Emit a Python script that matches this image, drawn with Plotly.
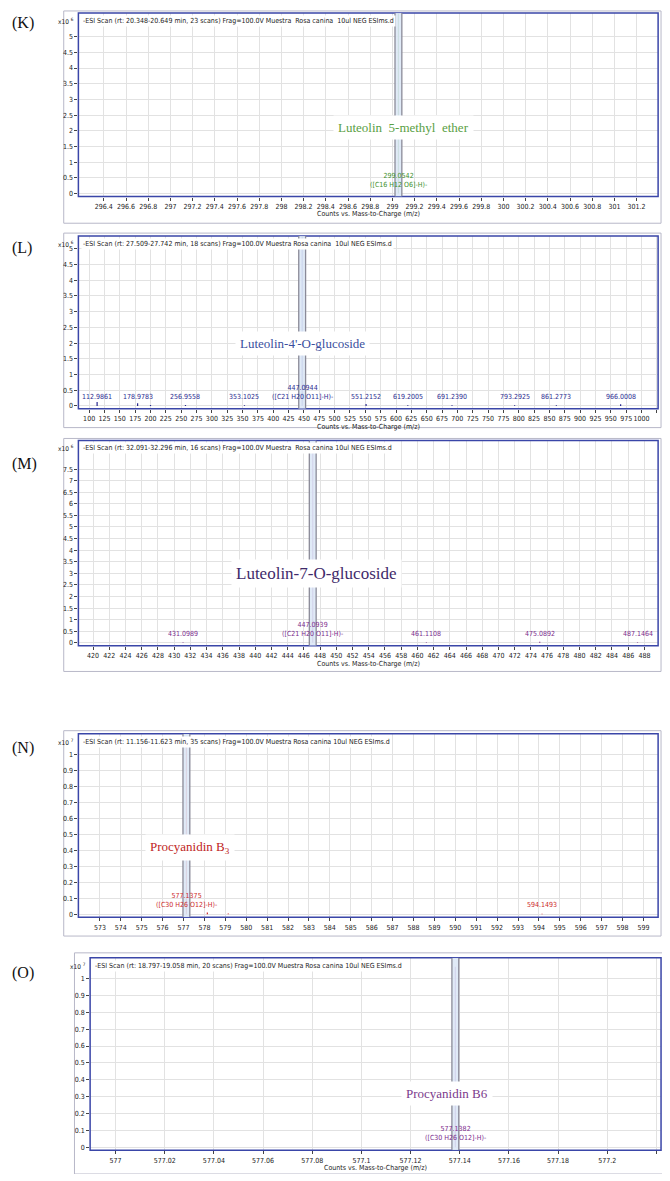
import plotly.graph_objects as go

W, H = 670, 1181
# the page is drawn slightly smaller than the window so no scrollbars appear
SX, SY = 655 / 670, 1166 / 1181

# ---- data (m/z, intensity in axis units) ----
k_mz = [299.0542]
k_int = [5.75]
k_labels = ["299.0542<br>([C16 H12 O6]-H)-"]

l_mz = [112.9861, 178.9783, 200.0, 256.9558, 353.1025, 447.0944, 551.2152, 619.2005, 691.2390, 793.2925, 861.2773, 966.0008]
l_int = [0.12, 0.08, 0.03, 0.03, 0.02, 5.6, 0.06, 0.02, 0.02, 0.02, 0.02, 0.05]
l_labels = ["112.9861", "178.9783", "", "256.9558", "353.1025", "447.0944<br>([C21 H20 O11]-H)-",
            "551.2152", "619.2005", "691.2390", "793.2925", "861.2773", "966.0008"]

m_mz = [431.0989, 447.0939, 461.1108, 475.0892, 487.1464]
m_int = [0.02, 8.3, 0.02, 0.05, 0.02]
m_labels = ["431.0989", "447.0939<br>([C21 H20 O11]-H)-", "461.1108", "475.0892", "487.1464"]

n_mz = [577.1375, 578.14, 579.14, 594.1493]
n_int = [1.07, 0.012, 0.006, 0.003]
n_labels = ["577.1375<br>([C30 H26 O12]-H)-", "", "", "594.1493"]

o_mz = [577.1382]
o_int = [1.07]
o_labels = ["577.1382<br>([C30 H26 O12]-H)-"]

titles = [
    "-ESI Scan (rt: 20.348-20.649 min, 23 scans) Frag=100.0V Muestra  Rosa canina  10ul NEG ESIms.d",
    "-ESI Scan (rt: 27.509-27.742 min, 18 scans) Frag=100.0V Muestra Rosa canina  10ul NEG ESIms.d",
    "-ESI Scan (rt: 32.091-32.296 min, 16 scans) Frag=100.0V Muestra  Rosa canina 10ul NEG ESIms.d",
    "-ESI Scan (rt: 11.156-11.623 min, 35 scans) Frag=100.0V Muestra Rosa canina 10ul NEG ESIms.d",
    "-ESI Scan (rt: 18.797-19.058 min, 20 scans) Frag=100.0V Muestra Rosa canina 10ul NEG ESIms.d",
]
compounds = ["Luteolin  5-methyl  ether", "Luteolin-4'-O-glucoside", "Luteolin-7-O-glucoside",
             "Procyanidin B<sub>3</sub>", "Procyanidin B6"]
compound_pos = [(299.1, 2.1), (447, 2.0), (447.5, 3.0), (577.3, 0.42), (577.135, 0.32)]
panel_tags = ["(K)", "(L)", "(M)", "(N)", "(O)"]
exponents = ["6", "6", "6", "7", "7"]
y_top_ticks = [5, 5, 7.5, 1, 1]

# ---- layout in reference pixels ----
panels = [
    dict(mz=k_mz, it=k_int, lab=k_labels, color="#3d8f2a", ccolor="#5aa044", csize=13,
         left=72, right=665, top=5, bottom=191, xt=((98, 296.4), (643, 301.2)), yt=((188, 0), (29, 5)),
         dx=0.2, x0=296.4, dy=0.5, frame=(57, 668, 3, 218), tagy=15, xlab=True),
    dict(mz=l_mz, it=l_int, lab=l_labels, color="#2a2a90", ccolor="#3a4f9e", csize=13,
         left=72, right=665, top=231, bottom=406, xt=((83, 100), (648, 1000)), yt=((403, 0), (244, 5)),
         dx=25, x0=100, dy=0.5, frame=(57, 668, 228, 425), tagy=243, xlab=True),
    dict(mz=m_mz, it=m_int, lab=m_labels, color="#7b2a8c", ccolor="#3f2a6a", csize=17,
         left=72, right=665, top=438, bottom=646, xt=((87, 420), (651, 488)), yt=((643, 0), (467, 7.5)),
         dx=2, x0=420, dy=0.5, frame=(57, 668, 436, 672), tagy=462, xlab=True),
    dict(mz=n_mz, it=n_int, lab=n_labels, color="#cc2a2a", ccolor="#c02424", csize=13,
         left=72, right=665, top=735, bottom=921, xt=((94, 573), (650, 599)), yt=((918, 0), (756, 1)),
         dx=1, x0=573, dy=0.1, frame=(57, 668, 732, 940), tagy=750, xlab=False),
    dict(mz=o_mz, it=o_int, lab=o_labels, color="#7b2a8c", ccolor="#7b3a8c", csize=13,
         left=84, right=668, top=962, bottom=1157, xt=((110, 577), (613, 577.2)), yt=((1154, 0), (983, 1)),
         dx=0.02, x0=577, dy=0.1, frame=(68, 670, 957, 1181), tagy=977, xlab=True),
]


def lin(p, t):
    (pa, va), (pb, vb) = t
    return va + (p - pa) * (vb - va) / (pb - pa)


def px(x):
    return x / W


def py(y):
    return 1 - y / H


fig = go.Figure()
shapes, annotations = [], []
TICKFONT = dict(family="DejaVu Sans Condensed, Liberation Sans Narrow, Liberation Sans", size=7, color="#222")

for i, p in enumerate(panels):
    n = "" if i == 0 else str(i + 1)
    xr = [lin(p["left"], p["xt"]), lin(p["right"], p["xt"])]
    yr = [lin(p["bottom"], p["yt"]), lin(p["top"], p["yt"])]
    xdom = [px(p["left"]), px(p["right"])]
    ydom = [py(p["bottom"]), py(p["top"])]
    nt = int(round(y_top_ticks[i] / p["dy"]))
    yvals = [round(k * p["dy"], 3) for k in range(nt + 1)]
    xvals = []
    v = p["x0"]
    while v < xr[1]:
        xvals.append(round(v, 4))
        v += p["dx"]
    fig.layout["xaxis" + n] = dict(domain=xdom, range=xr, anchor="y" + n, tickvals=xvals,
                                   ticktext=[f"{v:g}" for v in xvals],
                                   showgrid=True, gridcolor="#e2e2e2", zeroline=False, ticks="outside",
                                   ticklen=3, tickcolor="#444", tickfont=TICKFONT, showline=False,
                                   tickangle=0)
    fig.layout["yaxis" + n] = dict(domain=ydom, range=yr, anchor="x" + n, tickvals=yvals,
                                   ticktext=[f"{v:g}" for v in yvals],
                                   showgrid=True, gridcolor="#e2e2e2", zeroline=False, ticks="outside",
                                   ticklen=3, tickcolor="#444", tickfont=TICKFONT, showline=False)
    xref, yref = "x" + n, "y" + n

    # outer window frame and plot frame
    fl, fr, ft, fb = p["frame"]
    shapes.append(dict(type="rect", xref="paper", yref="paper", x0=px(fl), x1=px(fr),
                       y0=py(fb), y1=py(ft), line=dict(color="#b8b8c8", width=1), layer="below"))
    shapes.append(dict(type="rect", xref="paper", yref="paper", x0=xdom[0], x1=xdom[1],
                       y0=ydom[0], y1=ydom[1], line=dict(color="#3a46a8", width=1.5)))

    # stick spectrum
    xs, ys = [], []
    for mz, it in zip(p["mz"], p["it"]):
        xs += [mz, mz, None]
        ys += [0, it, None]
    fig.add_trace(go.Scatter(x=xs, y=ys, mode="lines", line=dict(color=p["color"], width=1.2),
                             xaxis=xref, yaxis=yref, showlegend=False, hoverinfo="skip"))

    # highlighted main peak band (drawn over the peak)
    main = max(range(len(p["it"])), key=lambda j: p["it"][j])
    ppu = (p["xt"][1][0] - p["xt"][0][0]) / (p["xt"][1][1] - p["xt"][0][1])
    hw = 3.5 / ppu
    cx = p["mz"][main]
    shapes.append(dict(type="rect", xref=xref, yref=yref, x0=cx - hw, x1=cx + hw, y0=yr[0], y1=yr[1],
                       fillcolor="rgba(221,232,246,0.9)", line=dict(width=0), layer="above"))
    for ex in (cx - hw, cx + hw):
        shapes.append(dict(type="line", xref=xref, yref=yref, x0=ex, x1=ex, y0=yr[0], y1=yr[1],
                           line=dict(color="#8a8a98", width=1.3)))

    for mz, lab in zip(p["mz"], p["lab"]):
        if lab:
            annotations.append(dict(x=mz, y=yr[0], xref=xref, yref=yref, text=lab, showarrow=False,
                                    yanchor="bottom", yshift=6, font=dict(TICKFONT, color=p["color"])))

    cxp, cyp = compound_pos[i]
    annotations.append(dict(x=cxp, y=cyp, xref=xref, yref=yref, text=compounds[i], showarrow=False,
                            bgcolor="white", borderpad=4,
                            font=dict(family="Liberation Serif, Times New Roman", size=p["csize"], color=p["ccolor"])))
    annotations.append(dict(x=xdom[0] + 3 / W, y=ydom[1] - 2 / H, xref="paper", yref="paper", text=titles[i],
                            showarrow=False, xanchor="left", yanchor="top", bgcolor="white",
                            font=dict(TICKFONT, size=7)))
    annotations.append(dict(x=xdom[0] - 2 / W, y=ydom[1] - 2 / H, xref="paper", yref="paper",
                            text="x10 <sup>" + exponents[i] + "</sup>", showarrow=False, xanchor="right",
                            yanchor="top", font=dict(TICKFONT, size=6.5)))
    annotations.append(dict(x=px(2), y=py(p["tagy"]), xref="paper", yref="paper", text=panel_tags[i],
                            showarrow=False, xanchor="left", yanchor="middle",
                            font=dict(family="Liberation Serif, Times New Roman", size=16, color="#111")))
    if p["xlab"]:
        annotations.append(dict(x=(xdom[0] + xdom[1]) / 2, y=py(p["bottom"] + 18), xref="paper", yref="paper",
                                text="Counts vs. Mass-to-Charge (m/z)", showarrow=False, yanchor="middle",
                                font=dict(TICKFONT, size=7)))

fig.update_layout(width=round(W * SX), height=round(H * SY), margin=dict(l=0, r=0, t=0, b=0),
                  paper_bgcolor="white", plot_bgcolor="white", shapes=shapes, annotations=annotations,
                  showlegend=False)

fig.write_html("out.html", config={"displayModeBar": False})
